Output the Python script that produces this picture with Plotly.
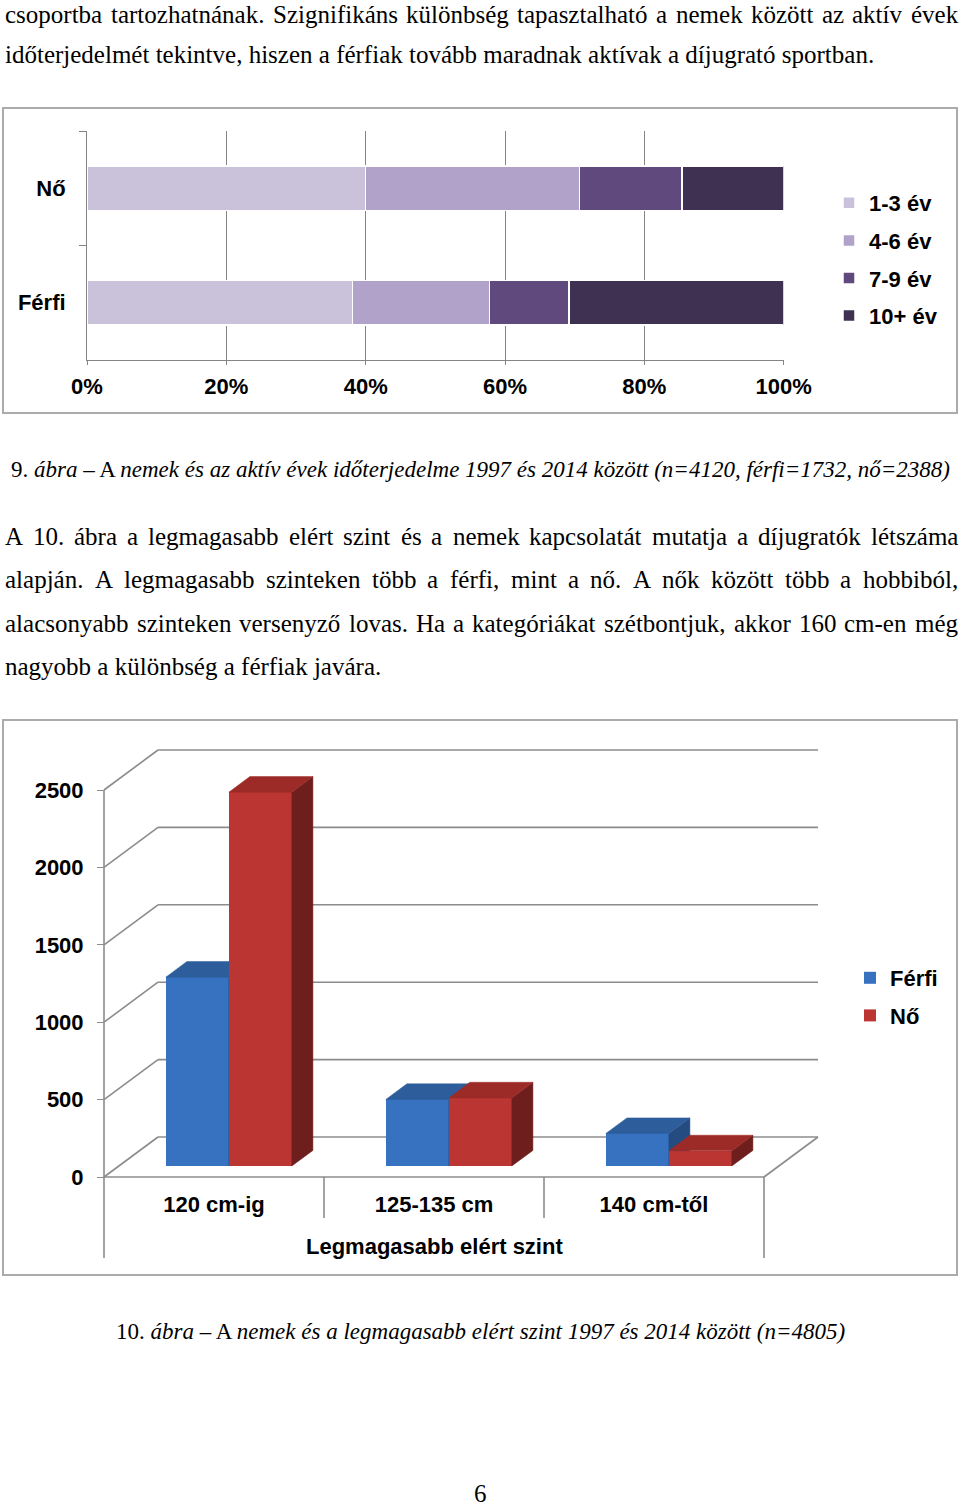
import plotly.graph_objects as go

W, H = 960, 1509


def px(x):
    return x / W


def py(y):
    return 1 - y / H


# ---------------- data: chart 9 (stacked horizontal bars, %) ----------------
genders = ["Férfi", "Nő"]
periods = ["1-3 év", "4-6 év", "7-9 év", "10+ év"]
share_ferfi = [38.1, 19.7, 11.4, 30.8]
share_no = [40.0, 30.7, 14.7, 14.6]
period_colors = ["#CAC1DB", "#B1A2C9", "#604A7D", "#3F3152"]
pct_ticks = [0, 20, 40, 60, 80, 100]
pct_labels = ["0%", "20%", "40%", "60%", "80%", "100%"]

# ---------------- data: chart 10 (3D column chart, counts) ----------------
levels = ["120 cm-ig", "125-135 cm", "140 cm-től"]
count_ferfi = [1220, 430, 210]
count_no = [2415, 440, 98]
count_ticks = [0, 500, 1000, 1500, 2000, 2500]

# ---------------- text ----------------
para1 = [
    ("csoportba tartozhatnának. Szignifikáns különbség tapasztalható a nemek között az aktív évek", 0, True),
    ("időterjedelmét tekintve, hiszen a férfiak tovább maradnak aktívak a díjugrató sportban.", 54, False),
]
para2 = [
    ("A 10. ábra a legmagasabb elért szint és a nemek kapcsolatát mutatja a díjugratók létszáma", 536, True),
    ("alapján. A legmagasabb szinteken több a férfi, mint a nő. A nők között több a hobbiból,", 579.5, True),
    ("alacsonyabb szinteken versenyző lovas. Ha a kategóriákat szétbontjuk, akkor 160 cm-en még", 623, True),
    ("nagyobb a különbség a férfiak javára.", 666.5, False),
]
caption9 = "9. <i>ábra</i> – A <i>nemek és az aktív évek időterjedelme 1997 és 2014 között (n=4120, férfi=1732, nő=2388)</i>"
caption10 = "10. <i>ábra</i> – A <i>nemek és a legmagasabb elért szint 1997 és 2014 között (n=4805)</i>"
x_title10 = "Legmagasabb elért szint"
page_no = "6"

SERIF = "Liberation Serif, Times New Roman, serif"
SANS = "Liberation Sans, Arial, sans-serif"
BODY = 25
CAP = 23
LBL = 22
GRID = "#858585"

# Times metrics (1/1000 em) for justification
TW = dict(zip("abcdefghijklmnopqrstuvwxyz",
              [444, 500, 444, 500, 444, 333, 500, 500, 278, 278, 500, 278, 778,
               500, 500, 500, 500, 333, 389, 278, 500, 500, 722, 500, 500, 444]))
TW.update(dict(zip("ABCDEFGHIJKLMNOPQRSTUVWXYZ",
                   [722, 667, 667, 722, 611, 556, 722, 722, 333, 389, 722, 611, 889,
                    722, 722, 556, 722, 667, 556, 611, 722, 722, 944, 722, 722, 611])))
TW.update({d: 500 for d in "0123456789"})
TW.update({" ": 250, ".": 250, ",": 250, "-": 333, "(": 333, ")": 333})
ACC = {"á": "a", "é": "e", "í": "i", "ó": "o", "ö": "o", "ő": "o", "ú": "u", "ü": "u", "ű": "u"}


def word_w(w, size):
    return sum(TW.get(ACC.get(c, c), 500) for c in w) * size / 1000.0


annotations = []


def add_line(text, y, justify, x0=4, x1=957, size=BODY):
    yanchor = "top" if y == 0 else "middle"
    if not justify:
        annotations.append(dict(text=text, x=px(x0), y=py(y), xref="paper", yref="paper",
                                xanchor="left", yanchor=yanchor, showarrow=False, borderpad=0,
                                font=dict(family=SERIF, size=size, color="black")))
        return
    words = text.split(" ")
    widths = [word_w(w, size) for w in words]
    gap = (x1 - x0 - sum(widths)) / (len(words) - 1)
    x = x0
    for w, wd in zip(words, widths):
        annotations.append(dict(text=w, x=px(x), y=py(y), xref="paper", yref="paper",
                                xanchor="left", yanchor=yanchor, showarrow=False, borderpad=0,
                                font=dict(family=SERIF, size=size, color="black")))
        x += wd + gap


for t, y, j in para1 + para2:
    add_line(t, y, j)

annotations.append(dict(text=caption9, x=px(480), y=py(470), xref="paper", yref="paper",
                        xanchor="center", yanchor="middle", showarrow=False,
                        font=dict(family=SERIF, size=CAP, color="black")))
annotations.append(dict(text=caption10, x=px(480), y=py(1331), xref="paper", yref="paper",
                        xanchor="center", yanchor="middle", showarrow=False,
                        font=dict(family=SERIF, size=CAP, color="black")))
annotations.append(dict(text=page_no, x=px(480), y=py(1508), xref="paper", yref="paper",
                        xanchor="center", yanchor="bottom", showarrow=False, borderpad=0,
                        font=dict(family=SERIF, size=BODY, color="black")))
annotations.append(dict(text=x_title10, x=px(434), y=py(1246), xref="paper", yref="paper",
                        xanchor="center", yanchor="middle", showarrow=False,
                        font=dict(family=SANS, size=LBL, color="black", weight="bold")))

fig = go.Figure()

# ---------------- chart 9 ----------------
for k, p in enumerate(periods):
    fig.add_trace(go.Bar(
        y=genders, x=[share_ferfi[k], share_no[k]], name=p, orientation="h",
        marker=dict(color=period_colors[k], line=dict(color="white", width=1.5)),
        width=0.385, xaxis="x", yaxis="y", legend="legend", legendgroup=p,
        hoverinfo="skip"))

# ---------------- chart 10 geometry ----------------
PX_X = 220.0            # pixels per category
PX_V = 387.0 / 2500.0   # pixels per count unit
X0_PX, Y0_PX = 104, 1177
DEPTH_X = 54 / PX_X     # floor depth, x units
DEPTH_V = 40 / PX_V     # floor depth, value units
BAR_F = 0.275           # bar front depth fraction
BAR_D = 0.39            # bar depth fraction
bar_w = 63 / PX_X
base = BAR_F * DEPTH_V
shift = BAR_F * DEPTH_X
sx, sy = BAR_D * DEPTH_X, BAR_D * DEPTH_V
centers = [i + 0.5 + shift for i in range(len(levels))]
n_cat = len(levels)

x2_range = [-X0_PX / PX_X, (868 - X0_PX) / PX_X]
y2_range = [-(1275 - Y0_PX) / PX_V, (Y0_PX - 720) / PX_V]
below_outer = -(1258 - Y0_PX) / PX_V
below_inner = -(1218 - Y0_PX) / PX_V


def faces(lefts, vals):
    tx, ty, sxs, sys_ = [], [], [], []
    for xl, v in zip(lefts, vals):
        xr = xl + bar_w
        top = base + v
        tx += [xl, xr, xr + sx, xl + sx, xl, None]
        ty += [top, top, top + sy, top + sy, top, None]
        sxs += [xr, xr, xr + sx, xr + sx, xr, None]
        sys_ += [base, top, top + sy, base + sy, base, None]
    return tx, ty, sxs, sys_


series = [
    ("Férfi", count_ferfi, -0.5, "#3772C0", "#2D5D9B", "#244C80", "x2", "y2"),
    ("Nő", count_no, 0.5, "#BB3633", "#9C2B28", "#6E1F1D", "x3", "y3"),
]
for name, vals, off, cfront, ctop, cside, xa, ya in series:
    xc = [c + off * bar_w for c in centers]
    lefts = [c - bar_w / 2 for c in xc]
    tx, ty, sxx, syy = faces(lefts, vals)
    fig.add_trace(go.Scatter(x=sxx, y=syy, fill="toself", fillcolor=cside, mode="lines",
                             line=dict(width=0.5, color=cside), xaxis=xa, yaxis=ya,
                             showlegend=False, hoverinfo="skip"))
    fig.add_trace(go.Scatter(x=tx, y=ty, fill="toself", fillcolor=ctop, mode="lines",
                             line=dict(width=0.5, color=ctop), xaxis=xa, yaxis=ya,
                             showlegend=False, hoverinfo="skip"))
    fig.add_trace(go.Bar(x=xc, y=vals, base=[base] * n_cat, width=bar_w, name=name,
                         marker=dict(color=cfront, line=dict(width=0)),
                         xaxis=xa, yaxis=ya, legend="legend2", legendgroup=name,
                         hoverinfo="skip"))

shapes = []
LC = "#8C8C8C"
for v in count_ticks:
    shapes.append(dict(type="line", xref="x2", yref="y2", x0=0, y0=v,
                       x1=DEPTH_X, y1=v + DEPTH_V, line=dict(color=LC, width=1.6), layer="below"))
    shapes.append(dict(type="line", xref="x2", yref="y2", x0=DEPTH_X, y0=v + DEPTH_V,
                       x1=n_cat + DEPTH_X, y1=v + DEPTH_V, line=dict(color=LC, width=1.6), layer="below"))
shapes.append(dict(type="line", xref="x2", yref="y2", x0=0, y0=0, x1=n_cat, y1=0,
                   line=dict(color=LC, width=1.6), layer="below"))
shapes.append(dict(type="line", xref="x2", yref="y2", x0=n_cat, y0=0, x1=n_cat + DEPTH_X,
                   y1=DEPTH_V, line=dict(color=LC, width=1.6), layer="below"))
shapes.append(dict(type="line", xref="x2", yref="y2", x0=0, y0=below_outer, x1=0,
                   y1=count_ticks[-1], line=dict(color=LC, width=1.6), layer="below"))
for k in range(1, n_cat + 1):
    yb = below_outer if k == n_cat else below_inner
    shapes.append(dict(type="line", xref="x2", yref="y2", x0=k, y0=0, x1=k, y1=yb,
                       line=dict(color=LC, width=1.6), layer="below"))

# chart frames
shapes.append(dict(type="rect", xref="paper", yref="paper", x0=px(3), x1=px(957),
                   y0=py(413), y1=py(108), line=dict(color="#ABABAB", width=2), layer="below"))
shapes.append(dict(type="rect", xref="paper", yref="paper", x0=px(3), x1=px(957),
                   y0=py(1275), y1=py(720), line=dict(color="#ABABAB", width=2), layer="below"))

bold_lbl = dict(family=SANS, size=LBL, color="black", weight="bold")

fig.update_layout(
    width=W, height=H, margin=dict(l=0, r=0, t=0, b=0, autoexpand=False),
    paper_bgcolor="white", plot_bgcolor="rgba(0,0,0,0)",
    barmode="stack", showlegend=True,
    xaxis=dict(domain=[px(87), px(783.7)], range=[0, 100], tickvals=pct_ticks, ticktext=pct_labels,
               showgrid=True, gridcolor=GRID, gridwidth=1, showline=True, linecolor=GRID,
               ticks="outside", ticklen=4, tickcolor=GRID, tickfont=bold_lbl,
               ticklabelstandoff=3, zeroline=False, anchor="y", fixedrange=True,
               automargin=False),
    yaxis=dict(domain=[py(360), py(131)], type="category", categoryarray=genders,
               categoryorder="array", range=[-0.5, 1.5], showline=True, linecolor=GRID,
               ticks="outside", tickson="boundaries", ticklen=7, tickcolor=GRID,
               showgrid=False, tickfont=bold_lbl, ticklabelstandoff=16, anchor="x",
               fixedrange=True, automargin=False),
    xaxis2=dict(domain=[0, 868 / W], range=x2_range, anchor="free", position=py(Y0_PX),
                tickvals=[i + 0.5 for i in range(n_cat)], ticktext=levels, ticks="",
                showgrid=False, zeroline=False, showline=False, tickfont=bold_lbl,
                ticklabelstandoff=12, fixedrange=True, automargin=False),
    yaxis2=dict(domain=[py(1275), py(720)], range=y2_range, anchor="free", position=px(X0_PX),
                tickvals=count_ticks, ticks="outside", ticklen=7, tickcolor=LC,
                showgrid=False, zeroline=False, showline=False, tickfont=bold_lbl,
                ticklabelstandoff=9, fixedrange=True, automargin=False),
    xaxis3=dict(domain=[0, 868 / W], range=x2_range, overlaying="x2", anchor="y3",
                visible=False, fixedrange=True, automargin=False),
    yaxis3=dict(domain=[py(1275), py(720)], range=y2_range, overlaying="y2", anchor="x3",
                visible=False, fixedrange=True, automargin=False),
    legend=dict(x=px(829), y=py(182), xanchor="left", yanchor="top", font=bold_lbl,
                traceorder="grouped", tracegroupgap=6, bgcolor="rgba(0,0,0,0)"),
    legend2=dict(x=px(850), y=py(957), xanchor="left", yanchor="top", font=bold_lbl,
                 traceorder="grouped", tracegroupgap=6, bgcolor="rgba(0,0,0,0)"),
    shapes=shapes,
    annotations=annotations,
)

fig.write_html("out.html", config={"displayModeBar": False, "staticPlot": True})
